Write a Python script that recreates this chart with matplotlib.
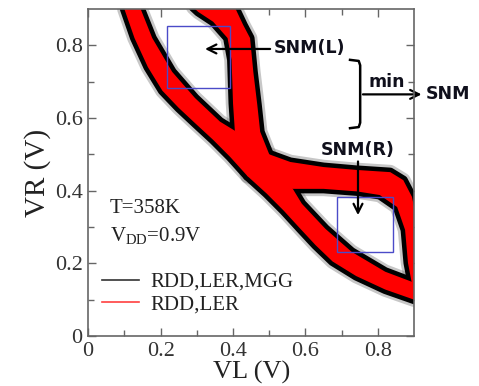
import matplotlib
matplotlib.use("Agg")
import matplotlib.pyplot as plt
from matplotlib.lines import Line2D
from matplotlib.patches import Rectangle

plt.rcParams["font.family"] = ["Liberation Serif", "DejaVu Serif"]
plt.rcParams["mathtext.fontset"] = "custom"
plt.rcParams["mathtext.rm"] = "Liberation Serif"

# Envelope of the VR = f(VL) characteristic (red band edges)
a_low_vl = [0.100, 0.128, 0.165, 0.205, 0.250, 0.295, 0.345, 0.392, 0.440, 0.565, 0.650, 0.742, 0.805, 0.853, 0.875, 0.883, 0.892, 0.900]
a_low_vr = [0.900, 0.820, 0.740, 0.675, 0.628, 0.586, 0.540, 0.493, 0.440, 0.405, 0.405, 0.398, 0.388, 0.355, 0.292, 0.201, 0.154, 0.120]
a_high_vl = [0.145, 0.177, 0.232, 0.295, 0.364, 0.405, 0.500, 0.558, 0.650, 0.742, 0.834, 0.870, 0.894, 0.905]
a_high_vr = [0.900, 0.820, 0.727, 0.655, 0.590, 0.565, 0.500, 0.479, 0.465, 0.457, 0.451, 0.429, 0.383, 0.330]

# Envelope of the VL = g(VR) characteristic
b_low_vl = [0.900, 0.820, 0.740, 0.675, 0.628, 0.586, 0.540, 0.493, 0.440, 0.405, 0.400, 0.398, 0.396, 0.385, 0.345, 0.304, 0.290]
b_low_vr = [0.100, 0.128, 0.165, 0.205, 0.250, 0.295, 0.345, 0.392, 0.440, 0.565, 0.640, 0.700, 0.760, 0.820, 0.865, 0.892, 0.905]
b_high_vl = [0.905, 0.820, 0.727, 0.655, 0.590, 0.565, 0.500, 0.475, 0.467, 0.456, 0.447, 0.428, 0.411, 0.405]
b_high_vr = [0.145, 0.177, 0.232, 0.295, 0.364, 0.405, 0.500, 0.562, 0.636, 0.727, 0.820, 0.856, 0.892, 0.905]

# SNM squares: (VL0, VR0, side_VL, side_VR)
snm_left_box = (0.218, 0.682, 0.174, 0.171)
snm_right_box = (0.687, 0.231, 0.155, 0.152)

legend_labels = ["RDD,LER,MGG", "RDD,LER"]

fig = plt.figure(figsize=(4.79, 3.86), dpi=100)
ax = fig.add_axes([0.184, 0.1295, 0.6806, 0.8472])

bands = [(a_low_vl, a_low_vr, a_high_vl, a_high_vr),
         (b_low_vl, b_low_vr, b_high_vl, b_high_vr)]

# spread of the MGG samples: grey halo + black edge, red (RDD,LER) on top
for lo_x, lo_y, hi_x, hi_y in bands:
    for xs, ys in [(lo_x, lo_y), (hi_x, hi_y)]:
        ax.plot(xs, ys, color="0.45", lw=10.5, alpha=0.4, solid_capstyle="round",
                solid_joinstyle="round", zorder=1)
        ax.plot(xs, ys, color="black", lw=6.5, solid_capstyle="round",
                solid_joinstyle="round", zorder=2)

for lo_x, lo_y, hi_x, hi_y in bands:
    ax.fill(lo_x + hi_x[::-1], lo_y + hi_y[::-1], color="red", lw=0, zorder=3)

for x0, y0, w, h in [snm_left_box, snm_right_box]:
    ax.add_patch(Rectangle((x0, y0), w, h, fill=False, edgecolor="#4b4bc8", lw=1.0, zorder=5))

txt = "#10101c"
arrow = dict(arrowstyle="->", color="black", lw=1.6, mutation_scale=16)

ax.annotate("", xy=(0.315, 0.790), xytext=(0.510, 0.790), arrowprops=arrow, zorder=6)
ax.text(0.512, 0.792, "SNM(L)", fontsize=12.5, fontweight="bold", family="DejaVu Sans",
        color=txt, ha="left", va="center", zorder=6)

ax.text(0.745, 0.512, "SNM(R)", fontsize=12.5, fontweight="bold", family="DejaVu Sans",
        color=txt, ha="center", va="center", zorder=6)
ax.annotate("", xy=(0.745, 0.325), xytext=(0.745, 0.488), arrowprops=arrow, zorder=6)

# bracket feeding the min
ax.plot([0.723, 0.747, 0.751, 0.751, 0.747, 0.723],
        [0.760, 0.757, 0.745, 0.587, 0.575, 0.572], color="black", lw=1.8,
        solid_joinstyle="round", clip_on=False, zorder=6)
ax.annotate("", xy=(0.928, 0.665), xytext=(0.751, 0.665), arrowprops=arrow,
            annotation_clip=False, zorder=6)
ax.text(0.823, 0.700, "min", fontsize=12.5, fontweight="bold", family="DejaVu Sans",
        color=txt, ha="center", va="center")
ax.text(0.931, 0.665, "SNM", fontsize=12.5, fontweight="bold", family="DejaVu Sans",
        color=txt, ha="left", va="center")

ax.text(0.060, 0.352, "T=358K", fontsize=15, color="#222222", ha="left", va="center")
ax.text(0.060, 0.276, r"V$_{\mathrm{DD}}$=0.9V", fontsize=15, color="#222222", ha="left", va="center")

handles = [Line2D([], [], color="#333333", lw=1.2), Line2D([], [], color="#ff4040", lw=1.2)]
ax.legend(handles, legend_labels, loc="upper left", bbox_to_anchor=(0.043, 0.195),
          frameon=False, fontsize=15, handlelength=1.75, handletextpad=0.55,
          labelspacing=0.15, borderpad=0, borderaxespad=0, labelcolor="#222222")

ax.set_xlim(0, 0.9)
ax.set_ylim(0, 0.9)
ax.set_xticks([0, 0.2, 0.4, 0.6, 0.8])
ax.set_xticklabels(["0", "0.2", "0.4", "0.6", "0.8"])
ax.set_yticks([0, 0.2, 0.4, 0.6, 0.8])
ax.set_yticklabels(["0", "0.2", "0.4", "0.6", "0.8"])
ax.set_xticks([0.1, 0.3, 0.5, 0.7], minor=True)
ax.set_yticks([0.1, 0.3, 0.5, 0.7], minor=True)
ax.tick_params(which="both", direction="in", top=True, right=True, colors="#666666",
               labelcolor="#333333", labelsize=16, pad=4)
ax.tick_params(which="major", length=6, width=1)
ax.tick_params(which="minor", length=4, width=1)
for s in ax.spines.values():
    s.set_color("#666666")
    s.set_linewidth(1.2)
    s.set_zorder(7)

ax.set_xlabel("VL (V)", fontsize=19, color="#222222", labelpad=0)
ax.set_ylabel("VR (V)", fontsize=21, color="#222222", labelpad=3)

fig.savefig("out.png", dpi=100)
